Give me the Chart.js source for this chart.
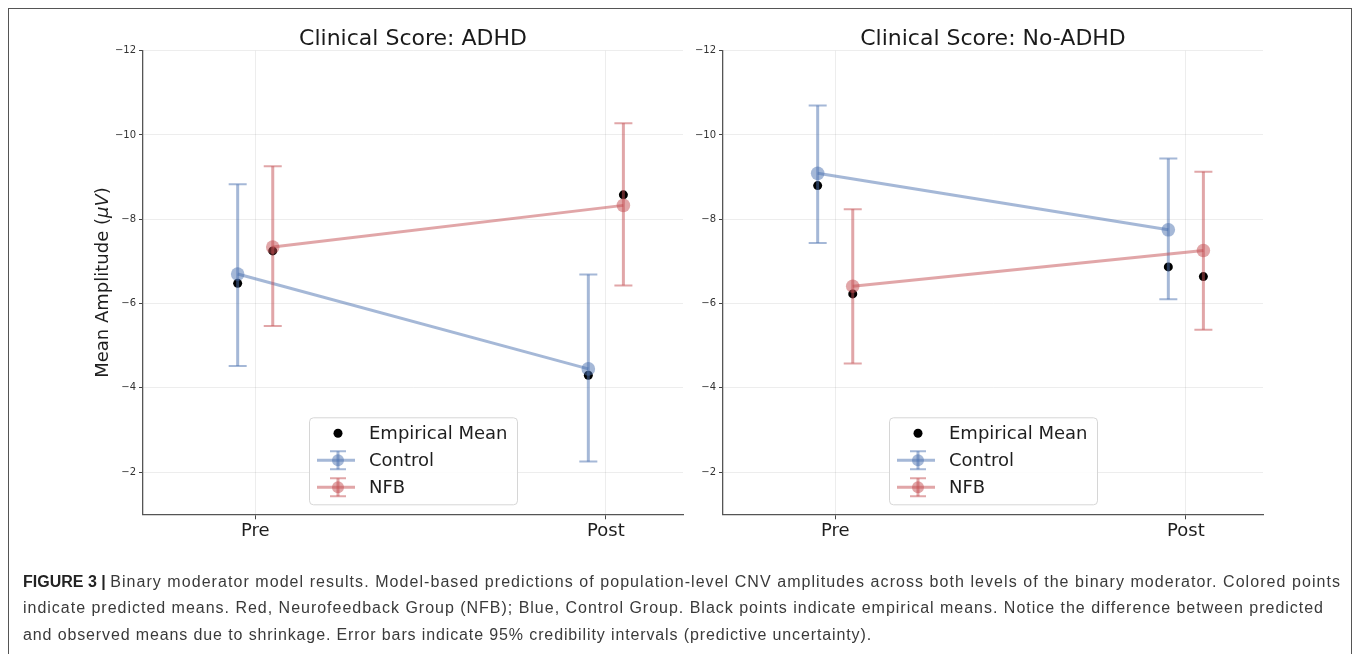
<!DOCTYPE html>
<html>
<head>
<meta charset="utf-8">
<title>Binary moderator model results</title>
<script src="https://cdn.jsdelivr.net/npm/chart.js@4.4.1/dist/chart.umd.min.js"></script>
<style>
  html, body { margin: 0; padding: 0; background: #fff; }
  body { width: 1358px; height: 654px; position: relative; overflow: hidden; }
  #frame { position: absolute; left: 8px; top: 8px; width: 1344px; height: 680px;
           border: 1.5px solid #555; box-sizing: border-box; pointer-events: none; }
  .panel { position: absolute; top: 0; height: 560px; }
  #leftPanel { left: 0; width: 700px; }
  #rightPanel { left: 680px; width: 678px; }
  #caption { position: absolute; left: 23px; top: 568.5px; font-family: "Liberation Sans", Arial, sans-serif;
             font-size: 16px; line-height: 26.5px; color: #3a3a3a; white-space: nowrap; }
  #caption div { display: block; }
  #caption b { color: #222; }
</style>
</head>
<body>
<div class="panel" id="leftPanel"><canvas id="adhdChart" width="700" height="560"></canvas></div>
<div class="panel" id="rightPanel"><canvas id="noAdhdChart" width="678" height="560"></canvas></div>
<div id="frame"></div>
<div id="caption">
  <div data-end="1341"><b>FIGURE 3 |</b> <span class="run">Binary moderator model results. Model-based predictions of population-level CNV amplitudes across both levels of the binary moderator. Colored points</span></div>
  <div data-end="1324"><span class="run">indicate predicted means. Red, Neurofeedback Group (NFB); Blue, Control Group. Black points indicate empirical means. Notice the difference between predicted</span></div>
  <div data-end="872"><span class="run">and observed means due to shrinkage. Error bars indicate 95% credibility intervals (predictive uncertainty).</span></div>
</div>
<script>
// ---- data -------------------------------------------------------------
const categories = ['Pre', 'Post'];
const yTickValues = [-12, -10, -8, -6, -4, -2];
const groupNames = ['Control', 'NFB'];

// Clinical Score: ADHD
const adhdControlMean = [-6.70, -4.45];
const adhdControlCiLo = [-8.83, -6.69];
const adhdControlCiHi = [-4.52, -2.25];
const adhdNfbMean = [-7.34, -8.33];
const adhdNfbCiLo = [-9.26, -10.28];
const adhdNfbCiHi = [-5.47, -6.43];
const adhdEmpiricalControl = [-6.48, -4.30];
const adhdEmpiricalNfb = [-7.25, -8.58];

// Clinical Score: No-ADHD
const noAdhdControlMean = [-9.09, -7.75];
const noAdhdControlCiLo = [-10.70, -9.44];
const noAdhdControlCiHi = [-7.44, -6.10];
const noAdhdNfbMean = [-6.41, -7.26];
const noAdhdNfbCiLo = [-8.24, -9.13];
const noAdhdNfbCiHi = [-4.58, -5.38];
const noAdhdEmpiricalControl = [-8.80, -6.87];
const noAdhdEmpiricalNfb = [-6.23, -6.64];

// ---- styling ----------------------------------------------------------
const BLUE = 'rgba(76,114,176,0.5)';
const RED = 'rgba(196,78,82,0.5)';
const GROUP_SHIFT = 0.05;        // dodge of the two groups around each category
const FONT = '"DejaVu Sans", sans-serif';

Chart.defaults.font.family = FONT;
Chart.defaults.color = '#262626';

const toPoints = (vals, shift) => vals.map((v, i) => ({ x: i + shift, y: v }));

// vertical credibility-interval bars, drawn under each group's line
const errorBars = {
  id: 'errorBars',
  beforeDatasetDraw(chart, args) {
    const ds = chart.data.datasets[args.index];
    if (!ds.ciLo) return;
    const xs = chart.scales.x, ys = chart.scales.y, ctx = chart.ctx;
    ctx.save();
    ctx.strokeStyle = ds.borderColor;
    ds.data.forEach((p, i) => {
      const x = xs.getPixelForValue(p.x);
      const yA = ys.getPixelForValue(ds.ciLo[i]);
      const yB = ys.getPixelForValue(ds.ciHi[i]);
      ctx.lineWidth = 3;
      ctx.beginPath(); ctx.moveTo(x, yA); ctx.lineTo(x, yB); ctx.stroke();
      ctx.lineWidth = 2;
      ctx.beginPath();
      ctx.moveTo(x - 9, yA); ctx.lineTo(x + 9, yA);
      ctx.moveTo(x - 9, yB); ctx.lineTo(x + 9, yB);
      ctx.stroke();
    });
    ctx.restore();
  }
};

// legend box at the lower centre of the plotting area
const legendBox = {
  id: 'legendBox',
  afterDatasetsDraw(chart) {
    const { ctx, chartArea: a } = chart;
    const w = 208, h = 87;
    const left = (a.left + a.right) / 2 - w / 2;
    const top = a.bottom - 10 - h;
    ctx.save();
    ctx.beginPath();
    ctx.roundRect(left + 0.5, top + 0.5, w, h, 4);
    ctx.fillStyle = 'rgba(255,255,255,0.85)';
    ctx.fill();
    ctx.strokeStyle = '#d6d6d6';
    ctx.lineWidth = 1;
    ctx.stroke();

    const order = ['Empirical Mean', ...groupNames];
    const gx = left + 29;
    order.forEach((label, r) => {
      const ds = chart.data.datasets.find(d => d.label === label);
      const y = top + 16 + r * 27;
      if (ds.ciLo) {
        const c = ds.borderColor;
        ctx.strokeStyle = c;
        ctx.lineWidth = 3;
        ctx.beginPath(); ctx.moveTo(left + 8, y); ctx.lineTo(left + 46, y); ctx.stroke();
        ctx.beginPath(); ctx.moveTo(gx, y - 9); ctx.lineTo(gx, y + 9); ctx.stroke();
        ctx.lineWidth = 2;
        ctx.beginPath();
        ctx.moveTo(gx - 8, y - 9); ctx.lineTo(gx + 8, y - 9);
        ctx.moveTo(gx - 8, y + 9); ctx.lineTo(gx + 8, y + 9);
        ctx.stroke();
        ctx.fillStyle = c;
        ctx.beginPath(); ctx.arc(gx, y, 6, 0, Math.PI * 2); ctx.fill();
      } else {
        ctx.fillStyle = '#000';
        ctx.beginPath(); ctx.arc(gx, y, 4.5, 0, Math.PI * 2); ctx.fill();
      }
      ctx.fillStyle = '#1e1e1e';
      ctx.font = '18px ' + FONT;
      ctx.textBaseline = 'middle';
      ctx.textAlign = 'left';
      ctx.fillText(label, left + 60, y + 1);
    });
    ctx.restore();
  }
};

// rotated y-axis title with an italic unit
const yAxisLabel = {
  id: 'yAxisLabel',
  afterDraw(chart, args, opts) {
    if (!opts.display) return;
    const { ctx, chartArea: a } = chart;
    const parts = [
      { t: 'Mean Amplitude (', f: '18px ' + FONT },
      { t: '\u03bcV', f: 'italic 18px ' + FONT },
      { t: ')', f: '18px ' + FONT }
    ];
    ctx.save();
    let total = 0;
    parts.forEach(p => { ctx.font = p.f; p.w = ctx.measureText(p.t).width; total += p.w; });
    ctx.translate(opts.x, (a.top + a.bottom) / 2);
    ctx.rotate(-Math.PI / 2);
    ctx.fillStyle = '#1e1e1e';
    ctx.textBaseline = 'middle';
    ctx.textAlign = 'left';
    let cx = -total / 2;
    parts.forEach(p => { ctx.font = p.f; ctx.fillText(p.t, cx, 0); cx += p.w; });
    ctx.restore();
  }
};

function makePanel(canvasId, title, d, layoutPadding, showYLabel) {
  return new Chart(document.getElementById(canvasId), {
    type: 'scatter',
    data: {
      datasets: [
        {
          label: 'Empirical Mean',
          data: [...toPoints(d.empControl, -GROUP_SHIFT), ...toPoints(d.empNfb, GROUP_SHIFT)],
          pointRadius: 4.5, pointBackgroundColor: '#000', pointBorderWidth: 0,
          order: 3
        },
        {
          label: 'Control',
          data: toPoints(d.controlMean, -GROUP_SHIFT),
          ciLo: d.controlLo, ciHi: d.controlHi,
          showLine: true, borderColor: BLUE, borderWidth: 3,
          pointRadius: 6.8, pointBackgroundColor: BLUE, pointBorderWidth: 0,
          order: 2
        },
        {
          label: 'NFB',
          data: toPoints(d.nfbMean, GROUP_SHIFT),
          ciLo: d.nfbLo, ciHi: d.nfbHi,
          showLine: true, borderColor: RED, borderWidth: 3,
          pointRadius: 6.8, pointBackgroundColor: RED, pointBorderWidth: 0,
          order: 1
        }
      ]
    },
    options: {
      responsive: false,
      animation: false,
      events: [],
      layout: { padding: layoutPadding },
      scales: {
        x: {
          type: 'linear', min: -0.32, max: 1.22,
          afterBuildTicks: s => { s.ticks = categories.map((_, i) => ({ value: i })); },
          afterFit: s => { s.height = 45.7; },
          ticks: {
            callback: v => categories[v],
            font: { size: 18 }, color: '#1e1e1e', padding: 1, maxRotation: 0
          },
          grid: { color: 'rgba(0,0,0,0.07)', lineWidth: 1, tickLength: 5, tickColor: '#444', tickWidth: 1 },
          border: { display: true, color: '#555', width: 1.3 }
        },
        y: {
          type: 'linear', min: -12, max: -1, reverse: true,
          afterBuildTicks: s => { s.ticks = yTickValues.map(v => ({ value: v })); },
          afterFit: s => { s.width = 40; },
          ticks: {
            callback: v => (v < 0 ? '\u2212' : '') + Math.abs(v),
            font: { size: 10 }, color: '#333', padding: 3
          },
          grid: { color: 'rgba(0,0,0,0.07)', lineWidth: 1, tickLength: 4, tickColor: '#444', tickWidth: 1 },
          border: { display: true, color: '#555', width: 1.3 }
        }
      },
      plugins: {
        legend: { display: false },
        tooltip: { enabled: false },
        title: {
          display: true, text: title, color: '#1a1a1a', fullSize: false,
          font: { size: 22, weight: 'normal' },
          padding: { top: 26.3, bottom: -2 }
        },
        yAxisLabel: { display: showYLabel, x: 103 }
      }
    },
    plugins: [errorBars, legendBox, yAxisLabel]
  });
}

makePanel('adhdChart', 'Clinical Score: ADHD', {
  controlMean: adhdControlMean, controlLo: adhdControlCiLo, controlHi: adhdControlCiHi,
  nfbMean: adhdNfbMean, nfbLo: adhdNfbCiLo, nfbHi: adhdNfbCiHi,
  empControl: adhdEmpiricalControl, empNfb: adhdEmpiricalNfb
}, { left: 103, right: 17, top: 0, bottom: 0 }, true);

makePanel('noAdhdChart', 'Clinical Score: No-ADHD', {
  controlMean: noAdhdControlMean, controlLo: noAdhdControlCiLo, controlHi: noAdhdControlCiHi,
  nfbMean: noAdhdNfbMean, nfbLo: noAdhdNfbCiLo, nfbHi: noAdhdNfbCiHi,
  empControl: noAdhdEmpiricalControl, empNfb: noAdhdEmpiricalNfb
}, { left: 3, right: 95, top: 0, bottom: 0 }, false);

// caption lines: loosen the tracking so each line ends at its set edge
document.querySelectorAll('#caption div').forEach(line => {
  const run = line.querySelector('.run');
  const right = run.getBoundingClientRect().right;
  const chars = run.textContent.length;
  run.style.letterSpacing = ((+line.dataset.end - right) / chars) + 'px';
});
</script>
</body>
</html>
